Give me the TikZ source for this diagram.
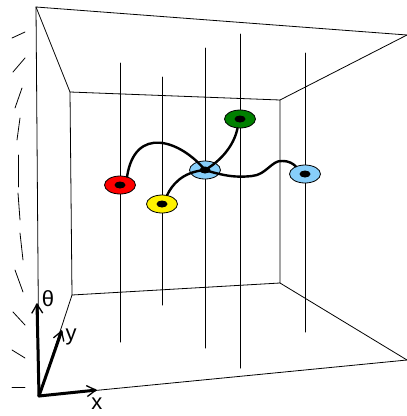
\documentclass[tikz,border=0pt]{standalone}
\usepackage{fontspec}
\setmainfont{Liberation Sans}
\usetikzlibrary{shapes.geometric,arrows.meta}
\definecolor{skyblue}{RGB}{135,206,250}
\definecolor{darkgreen}{RGB}{0,128,0}
\begin{document}
\begin{tikzpicture}[x=1pt, y=-1pt, line join=round, line cap=round,
	frame/.style={line width=.8pt},
	pole/.style={line width=1pt},
	bead/.style={ellipse, draw, line width=.8pt, minimum width=31pt, minimum height=18pt, inner sep=0pt,
		path picture={\fill[black] (path picture bounding box.center) ellipse (5.5pt and 3.5pt);}},
	wire/.style={line width=2.4pt},
	axis/.style={line width=3pt, -{Straight Barb[length=9pt,width=11pt,line width=1.3pt]}},
	lbl/.style={font=\fontsize{22}{26}\selectfont, inner sep=0pt}]
	\useasboundingbox (0,0) rectangle (407,416);
	% outer and inner frame
	\coordinate (o1) at (36,7);	\coordinate (o2) at (407,35);	\coordinate (o3) at (407,360);	\coordinate (o4) at (39,396);
	\coordinate (i1) at (70,92);	\coordinate (i2) at (280,100);	\coordinate (i3) at (280,283);	\coordinate (i4) at (72,295);
	\draw[frame] (o2) -- (o1) -- (o4) -- (o3);
	\draw[frame] (i1) -- (i2) -- (i3) -- (i4) -- cycle;
	\draw[frame] (o1) -- (i1) (o2) -- (i2) (o3) -- (i3) (o4) -- (i4);
	% theta wraps round
	\foreach \xa/\ya/\xb/\yb in {12/38/25/32, 13/72/25/58, 15/108/22/88, 17/140/20/118, 18/187/18/155,
		18/193/20/220, 20/233/23/260, 15/270/23/292, 13/312/25/325, 12/350/25/358, 12/387/25/387}
		\draw[frame] (\xa,\ya) -- (\xb,\yb);
	% poles
	\foreach \px/\ptop/\pbot in {120/63/342, 162/77/305, 205/48/348, 240/34/368, 305/53/332}
		\draw[pole] (\px,\ptop) -- (\px,\pbot);
	% beads
	\node[bead, fill=red] (red) at (120,185) {};
	\node[bead, fill=yellow] (yellow) at (162,204) {};
	\node[bead, fill=skyblue] (blueL) at (205,170) {};
	\node[bead, fill=darkgreen] (green) at (240,119) {};
	\node[bead, fill=skyblue] (blueR) at (305,174) {};
	% wires
	\draw[wire] (red.50) .. controls (135,125) and (180,140) .. (blueL.center);
	\draw[wire] (yellow.60) .. controls (172,185) and (182,172) .. (blueL.center);
	\draw[wire] (blueL.center) .. controls (222,160) and (234,145) .. (green.255);
	\draw[wire] (blueL.center) .. controls (230,178) and (242,177) .. (252,176)
		.. controls (266,175) and (272,160) .. (282,161) .. controls (290,161) and (293,164) .. (blueR.140);
	% axes
	\coordinate (org) at (39,396);
	\coordinate (xtip) at (97,390);	\coordinate (ytip) at (62,330);	\coordinate (ttip) at (37,303);
	\draw[axis] (org) -- (xtip);
	\draw[axis] (org) -- (ytip);
	\draw[axis] (org) -- (ttip);
	\node[lbl] (xlab) at (97,404) {x};
	\node[lbl] (ylab) at (71,337) {y};
	\node[lbl] (tlab) at (48,299) {θ};
\end{tikzpicture}
\end{document}
